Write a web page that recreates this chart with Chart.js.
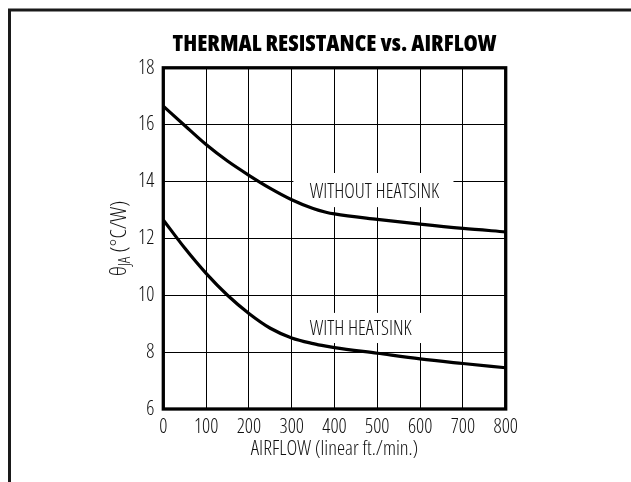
<!DOCTYPE html>
<html>
<head>
<meta charset="utf-8">
<script src="https://cdn.jsdelivr.net/npm/chart.js@4.4.1/dist/chart.umd.min.js"></script>
<style>
  html, body { margin: 0; padding: 0; background: #fff; }
  #wrap { width: 631px; height: 482px; }
</style>
</head>
<body>
<div id="wrap"><canvas id="grafico" width="631" height="482"></canvas></div>
<script>
/* ================= DADOS ================= */
const airflow = [0, 50, 100, 150, 200, 250, 300, 350, 380, 400, 500, 600, 700, 800];
const semDissipador = [16.65, 15.97, 15.3, 14.72, 14.22, 13.76, 13.36, 13.05, 12.92, 12.86, 12.67, 12.5, 12.35, 12.23];
const comDissipador = [12.65, 11.66, 10.77, 10.0, 9.36, 8.84, 8.5, 8.3, 8.21, 8.16, 7.96, 7.76, 7.6, 7.45];
const xTicks = [0, 100, 200, 300, 400, 500, 600, 700, 800];
const yTicks = [6, 8, 10, 12, 14, 16, 18];
const nomesCurvas = ["WITHOUT HEATSINK", "WITH HEATSINK"];

// Open Sans variável tem eixo de largura: "condensed" cai em 75%
const FONTE = "'Open Sans', 'Roboto Condensed', sans-serif";
const PESO_TEXTO = "condensed 300";
const PESO_TITULO = "condensed 800";

/* ================= RÓTULOS NAS CURVAS ================= */
// caixa branca (em unidades do gráfico) + texto alinhado à esquerda
const rotulos = [
  { texto: nomesCurvas[0], x: 342, y: 13.63, caixa: [304, 678, 14.3, 13.1] },
  { texto: nomesCurvas[1], x: 342, y: 8.8, caixa: [304, 604, 9.38, 8.32] }
];

/* ================= PLUGINS ================= */
const moldura = {
  id: "moldura",
  beforeDraw(chart) {
    const ctx = chart.ctx;
    ctx.save();
    ctx.fillStyle = "#fff";
    ctx.fillRect(0, 0, chart.width, chart.height);
    ctx.strokeStyle = "#1a1a1a";
    ctx.lineWidth = 3;
    ctx.beginPath();
    ctx.moveTo(9.5, chart.height);
    ctx.lineTo(9.5, 10);
    ctx.lineTo(chart.width, 10);
    ctx.stroke();
    ctx.restore();
  }
};

const caixasRotulos = {
  id: "caixasRotulos",
  beforeDatasetsDraw(chart) {
    const { ctx, scales: { x, y } } = chart;
    ctx.save();
    ctx.fillStyle = "#fff";
    rotulos.forEach(r => {
      const x0 = x.getPixelForValue(r.caixa[0]);
      const x1 = x.getPixelForValue(r.caixa[1]);
      const y0 = y.getPixelForValue(r.caixa[2]);
      const y1 = y.getPixelForValue(r.caixa[3]);
      ctx.fillRect(x0, y0, x1 - x0, y1 - y0);
    });
    ctx.fillStyle = "#111";
    ctx.font = PESO_TEXTO + " 20px " + FONTE;
    ctx.textAlign = "left";
    ctx.textBaseline = "middle";
    rotulos.forEach(r => {
      ctx.fillText(r.texto, x.getPixelForValue(r.x), y.getPixelForValue(r.y));
    });
    ctx.restore();
  }
};

const bordaArea = {
  id: "bordaArea",
  afterDatasetsDraw(chart) {
    const { ctx, chartArea: a } = chart;
    ctx.save();
    ctx.strokeStyle = "#000";
    ctx.lineWidth = 3.3;
    ctx.strokeRect(a.left, a.top, a.right - a.left, a.bottom - a.top);
    ctx.restore();
  }
};

// título do eixo Y com subscrito (θJA)
const tituloY = {
  id: "tituloY",
  afterDraw(chart) {
    const ctx = chart.ctx;
    const a = chart.chartArea;
    const fGrande = PESO_TEXTO + " 22px " + FONTE;
    const fSub = PESO_TEXTO + " 16px " + FONTE;
    ctx.save();
    ctx.fillStyle = "#111";
    ctx.font = fGrande;
    const wTheta = ctx.measureText("θ").width;
    const wResto = ctx.measureText(" (°C/W)").width;
    ctx.font = fSub;
    const wSub = ctx.measureText("JA").width;
    const total = wTheta + wSub + wResto;
    ctx.translate(120, (a.top + a.bottom) / 2);
    ctx.rotate(-Math.PI / 2);
    ctx.textBaseline = "middle";
    ctx.textAlign = "left";
    let px = -total / 2;
    ctx.font = fGrande;
    ctx.fillText("θ", px, 0);
    px += wTheta;
    ctx.font = fSub;
    ctx.fillText("JA", px, 5);
    px += wSub;
    ctx.font = fGrande;
    ctx.fillText(" (°C/W)", px, 0);
    ctx.restore();
  }
};

/* ================= GRÁFICO ================= */
function criarGrafico() {
  const ctx = document.getElementById("grafico");

  new Chart(ctx, {
    type: "line",
    data: {
      labels: airflow,
      datasets: [
        { label: nomesCurvas[0], data: airflow.map((a, i) => ({ x: a, y: semDissipador[i] })) },
        { label: nomesCurvas[1], data: airflow.map((a, i) => ({ x: a, y: comDissipador[i] })) }
      ]
    },
    options: {
      responsive: false,
      devicePixelRatio: 1,
      animation: false,
      layout: { padding: { left: 0, right: 125.3, top: 0, bottom: 0 } },
      elements: {
        line: { borderColor: "#000", borderWidth: 3.2, cubicInterpolationMode: "monotone", fill: false },
        point: { radius: 0 }
      },
      plugins: {
        legend: { display: false },
        tooltip: { enabled: false },
        title: {
          display: true,
          fullSize: false,
          text: "THERMAL RESISTANCE vs. AIRFLOW",
          color: "#000",
          font: { family: FONTE, size: 23, weight: PESO_TITULO, lineHeight: 1 },
          padding: { top: 33, bottom: 11.8 }
        }
      },
      scales: {
        x: {
          type: "linear",
          min: 0,
          max: 800,
          afterFit(s) { s.height = 73; },
          afterBuildTicks(s) { s.ticks = xTicks.map(v => ({ value: v })); },
          grid: { color: "#000", lineWidth: 1, drawTicks: false },
          border: { display: false },
          ticks: { color: "#111", font: { family: FONTE, size: 20, weight: PESO_TEXTO }, padding: 6, maxRotation: 0 },
          title: {
            display: true,
            text: "AIRFLOW (linear ft./min.)",
            color: "#111",
            font: { family: FONTE, size: 20.5, weight: PESO_TEXTO },
            padding: { top: 0, bottom: 20.8 }
          }
        },
        y: {
          min: 6,
          max: 18,
          afterFit(s) { s.width = 163.3; },
          afterBuildTicks(s) { s.ticks = yTicks.map(v => ({ value: v })); },
          grid: { color: "#000", lineWidth: 1, drawTicks: false },
          border: { display: false },
          ticks: { color: "#111", font: { family: FONTE, size: 20, weight: PESO_TEXTO }, padding: 9 }
        }
      }
    },
    plugins: [moldura, caixasRotulos, bordaArea, tituloY]
  });
}

window.onload = () => {
  criarGrafico();
};
</script>
</body>
</html>
